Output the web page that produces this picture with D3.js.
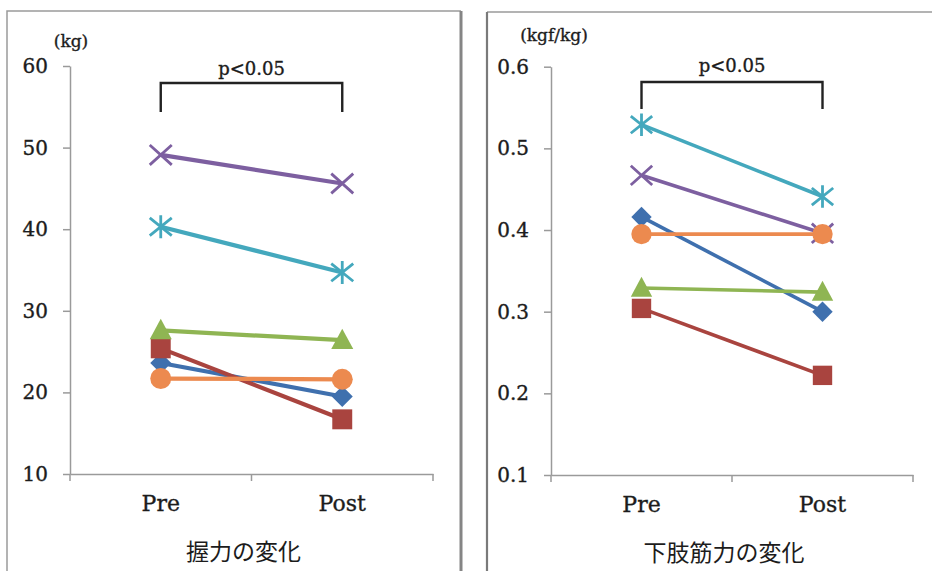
<!DOCTYPE html>
<html>
<head>
<meta charset="utf-8">
<script src="https://cdn.jsdelivr.net/npm/d3@7/dist/d3.min.js"></script>
<style>
  html, body { margin: 0; padding: 0; background: #ffffff; }
  svg { display: block; }
</style>
</head>
<body>
<svg id="chart" width="932" height="571"></svg>
<script>
// ---------------- data ----------------
const categories = ["Pre", "Post"];

const gripTicks = [10, 20, 30, 40, 50, 60];
const legTicks = [0.1, 0.2, 0.3, 0.4, 0.5, 0.6];

const seriesNames = ["S1", "S2", "S3", "S4", "S5", "S6"];
const seriesMarkers = ["diamond", "square", "triangle", "cross", "star", "circle"];
const seriesColors = ["#3f70ae", "#a9443f", "#8fb553", "#7d5fa0", "#44a8bd", "#ec8a4f"];

// 握力 (kg)
const gripDiamond = [23.6, 19.5];
const gripSquare = [25.4, 16.7];
const gripTriangle = [27.6, 26.4];
const gripCross = [49.1, 45.6];
const gripStar = [40.3, 34.7];
const gripCircle = [21.7, 21.6];

// 下肢筋力 (kgf/kg)
const legDiamond = [0.416, 0.300];
const legSquare = [0.304, 0.222];
const legTriangle = [0.329, 0.324];
const legCross = [0.467, 0.396];
const legStar = [0.529, 0.441];
const legCircle = [0.395, 0.395];

const gripTitle = "握力の変化";
const legTitle = "下肢筋力の変化";
const gripUnit = "(kg)";
const legUnit = "(kgf/kg)";
const sigLabel = "p<0.05";

// ---------------- layout ----------------
const svg = d3.select("#chart");
const serif = "'DejaVu Serif', 'Liberation Serif', serif";
const cjk = "'Noto Sans CJK JP', 'Noto Sans CJK SC', sans-serif";
const textColor = "#1c1c1c";

const panels = [
  {
    box: { x0: 7, y0: 11, x1: 461 },
    plot: { left: 70, right: 433, top: 66, bottom: 474 },
    domain: [10, 60], ticks: gripTicks, fmt: d3.format("d"),
    values: [gripDiamond, gripSquare, gripTriangle, gripCross, gripStar, gripCircle],
    unit: gripUnit, unitPos: [71, 41],
    title: gripTitle, titleY: 550,
    sigY: 68, bracketTop: 83, bracketBottom: 112,
    lineW: 4.2, markerR: 10.5
  },
  {
    box: { x0: 487, y0: 12, x1: null },
    plot: { left: 551, right: 913, top: 66.7, bottom: 475 },
    domain: [0.1, 0.6], ticks: legTicks, fmt: d3.format(".1f"),
    values: [legDiamond, legSquare, legTriangle, legCross, legStar, legCircle],
    unit: legUnit, unitPos: [554, 35],
    title: legTitle, titleY: 551,
    sigY: 65, bracketTop: 82, bracketBottom: 109,
    lineW: 3.6, markerR: 10.2
  }
];

// panel frames
const frameColor = "#9a9a9a";
svg.append("path")
  .attr("d", `M${panels[0].box.x0},571 L${panels[0].box.x0},${panels[0].box.y0} L${panels[0].box.x1},${panels[0].box.y0}`)
  .attr("fill", "none").attr("stroke", frameColor).attr("stroke-width", 1.5);
svg.append("line")
  .attr("x1", panels[0].box.x1).attr("x2", panels[0].box.x1)
  .attr("y1", panels[0].box.y0).attr("y2", 571)
  .attr("stroke", "#858585").attr("stroke-width", 3);
svg.append("line")
  .attr("x1", panels[1].box.x0).attr("x2", 932)
  .attr("y1", panels[1].box.y0).attr("y2", panels[1].box.y0)
  .attr("stroke", frameColor).attr("stroke-width", 1.5);
svg.append("line")
  .attr("x1", panels[1].box.x0).attr("x2", panels[1].box.x0)
  .attr("y1", panels[1].box.y0).attr("y2", 571)
  .attr("stroke", "#7a7a7a").attr("stroke-width", 2.2);

function markerPath(type, s) {
  switch (type) {
    case "diamond": return `M0,${-s} L${s},0 L0,${s} L${-s},0 Z`;
    case "square": { const h = s * 0.95; return `M${-h},${-h} L${h},${-h} L${h},${h} L${-h},${h} Z`; }
    case "triangle": return `M0,${-s * 1.1} L${s * 1.05},${s * 0.85} L${-s * 1.05},${s * 0.85} Z`;
    case "cross": return `M${-s},${-s * 0.9} L${s},${s * 0.9} M${s},${-s * 0.9} L${-s},${s * 0.9}`;
    case "star": return `M${-s},${-s * 0.8} L${s},${s * 0.8} M${s},${-s * 0.8} L${-s},${s * 0.8} M0,${-s * 1.05} L0,${s * 1.05}`;
  }
  return "";
}

function styleText(sel, size) {
  sel.attr("font-family", serif).attr("font-size", size).attr("fill", textColor)
     .attr("stroke", textColor).attr("stroke-width", 0.35);
}

panels.forEach(p => {
  const g = svg.append("g");
  const y = d3.scaleLinear().domain(p.domain).range([p.plot.bottom, p.plot.top]);
  const x = d3.scaleBand().domain(categories).range([p.plot.left, p.plot.right]).paddingInner(0).paddingOuter(0);
  const cx = d => x(d) + x.bandwidth() / 2;

  // y axis
  const yAxis = d3.axisLeft(y).tickValues(p.ticks).tickFormat(p.fmt).tickSize(7).tickSizeOuter(0).tickPadding(15);
  const ya = g.append("g").attr("transform", `translate(${p.plot.left},0)`).call(yAxis);
  ya.select(".domain").attr("stroke", "#9a9a9a").attr("stroke-width", 1.5);
  ya.selectAll(".tick line").attr("stroke", "#9a9a9a").attr("stroke-width", 1.5);
  styleText(ya.selectAll(".tick text"), 20);

  // x axis
  const xAxis = d3.axisBottom(x).tickSize(0).tickSizeOuter(0).tickPadding(21);
  const xa = g.append("g").attr("transform", `translate(0,${p.plot.bottom})`).call(xAxis);
  xa.select(".domain").attr("stroke", "#9a9a9a").attr("stroke-width", 1.5);
  styleText(xa.selectAll(".tick text"), 22);
  const edges = categories.map(c => x(c)).concat([x(categories[categories.length - 1]) + x.bandwidth()]);
  g.selectAll(".xedge").data(edges).enter().append("line")
    .attr("x1", d => d).attr("x2", d => d)
    .attr("y1", p.plot.bottom).attr("y2", p.plot.bottom + 7)
    .attr("stroke", "#9a9a9a").attr("stroke-width", 1.5);

  // unit label
  styleText(g.append("text").text(p.unit)
    .attr("x", p.unitPos[0]).attr("y", p.unitPos[1])
    .attr("text-anchor", "middle").attr("dominant-baseline", "central"), 17);

  // title
  g.append("text").text(p.title)
    .attr("x", (p.plot.left + p.plot.right) / 2 - 8).attr("y", p.titleY)
    .attr("text-anchor", "middle").attr("dominant-baseline", "central")
    .attr("font-family", cjk).attr("font-size", 23).attr("fill", textColor);

  // significance bracket
  const xa0 = cx(categories[0]), xa1 = cx(categories[1]);
  g.append("path")
    .attr("d", `M${xa0},${p.bracketBottom} L${xa0},${p.bracketTop} L${xa1},${p.bracketTop} L${xa1},${p.bracketBottom}`)
    .attr("fill", "none").attr("stroke", "#222").attr("stroke-width", 2.4);
  styleText(g.append("text").text(sigLabel)
    .attr("x", (xa0 + xa1) / 2).attr("y", p.sigY)
    .attr("text-anchor", "middle").attr("dominant-baseline", "central"), 18);

  // series
  const line = d3.line().x(d => cx(d.c)).y(d => y(d.v));
  p.values.forEach((vals, i) => {
    const pts = categories.map((c, j) => ({ c, v: vals[j] }));
    const color = seriesColors[i];
    const sg = g.append("g").attr("class", "series-" + seriesNames[i]);
    sg.append("path").datum(pts).attr("d", line)
      .attr("fill", "none").attr("stroke", color).attr("stroke-width", p.lineW);
    const type = seriesMarkers[i];
    pts.forEach(d => {
      if (type === "circle") {
        sg.append("circle").attr("cx", cx(d.c)).attr("cy", y(d.v)).attr("r", p.markerR).attr("fill", color);
      } else if (type === "cross" || type === "star") {
        sg.append("path").attr("transform", `translate(${cx(d.c)},${y(d.v)})`)
          .attr("d", markerPath(type, p.markerR + 0.5))
          .attr("fill", "none").attr("stroke", color).attr("stroke-width", 2.8);
      } else {
        sg.append("path").attr("transform", `translate(${cx(d.c)},${y(d.v)})`)
          .attr("d", markerPath(type, p.markerR)).attr("fill", color);
      }
    });
  });
});
</script>
</body>
</html>
